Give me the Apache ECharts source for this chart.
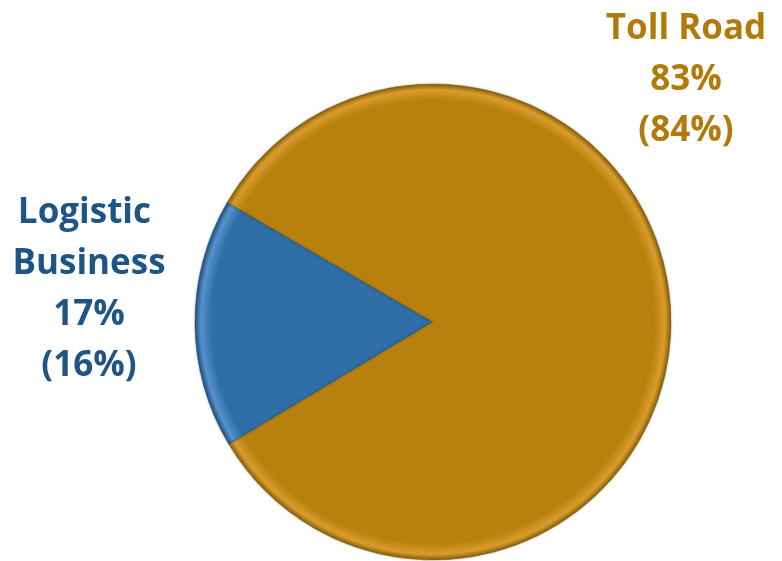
<!DOCTYPE html>
<html>
<head>
<meta charset="utf-8">
<style>
  html, body { margin: 0; padding: 0; background: #fff; }
  #chart { width: 782px; height: 561px; }
</style>
<script src="https://cdn.jsdelivr.net/npm/echarts@6/dist/echarts.min.js"></script>
</head>
<body>
<div id="chart"></div>
<script>
// ---- data ----
const categories = ['Logistic Business', 'Toll Road'];
const currentShares = [17, 83];   // %
const previousShares = [16, 84];  // % shown in parentheses

const sliceColors = ['#2F6EA7', '#B8800C'];
const rimLight = ['#5592CC', '#D99C2C'];
const rimDark = ['#234F7A', '#86600C'];
const textColors = ['#1F5584', '#B27A08'];

const CX = 433, CY = 322, R = 238;

function fillFor(i) {
  return {
    type: 'radial', x: CX, y: CY, r: R, global: true,
    colorStops: [
      { offset: 0, color: sliceColors[i] },
      { offset: 0.93, color: sliceColors[i] },
      { offset: 0.975, color: rimLight[i] },
      { offset: 1, color: rimDark[i] }
    ]
  };
}

const labelPos = [
  { x: 89, y: 290 },
  { x: 686, y: 80 }
];

const chart = echarts.init(document.getElementById('chart'), null, { renderer: 'canvas' });
chart.setOption({
  animation: false,
  backgroundColor: '#ffffff',
  series: [{
    type: 'pie',
    center: [CX, CY],
    radius: [0, R],
    startAngle: 211,
    clockwise: true,
    silent: true,
    labelLine: { show: false },
    label: {
      show: true,
      position: 'outside',
      fontFamily: 'Open Sans',
      fontWeight: 'bold',
      fontSize: 35,
      lineHeight: 51,
      align: 'center',
      overflow: 'break',
      formatter: function (p) {
        return p.name + '\n' + currentShares[p.dataIndex] + '%\n(' + previousShares[p.dataIndex] + '%)';
      }
    },
    labelLayout: function (params) {
      const pos = labelPos[params.dataIndex];
      return { x: pos.x, y: pos.y, align: 'center', verticalAlign: 'middle' };
    },
    data: categories.map(function (name, i) {
      return {
        name: name,
        value: currentShares[i],
        itemStyle: {
          color: fillFor(i),
          borderColor: rimDark[i],
          borderWidth: 0.6,
          shadowColor: 'rgba(0,0,0,0.2)',
          shadowBlur: 3
        },
        label: {
          color: textColors[i],
          width: i === 0 ? 160 : 220
        }
      };
    })
  }]
});
</script>
</body>
</html>
